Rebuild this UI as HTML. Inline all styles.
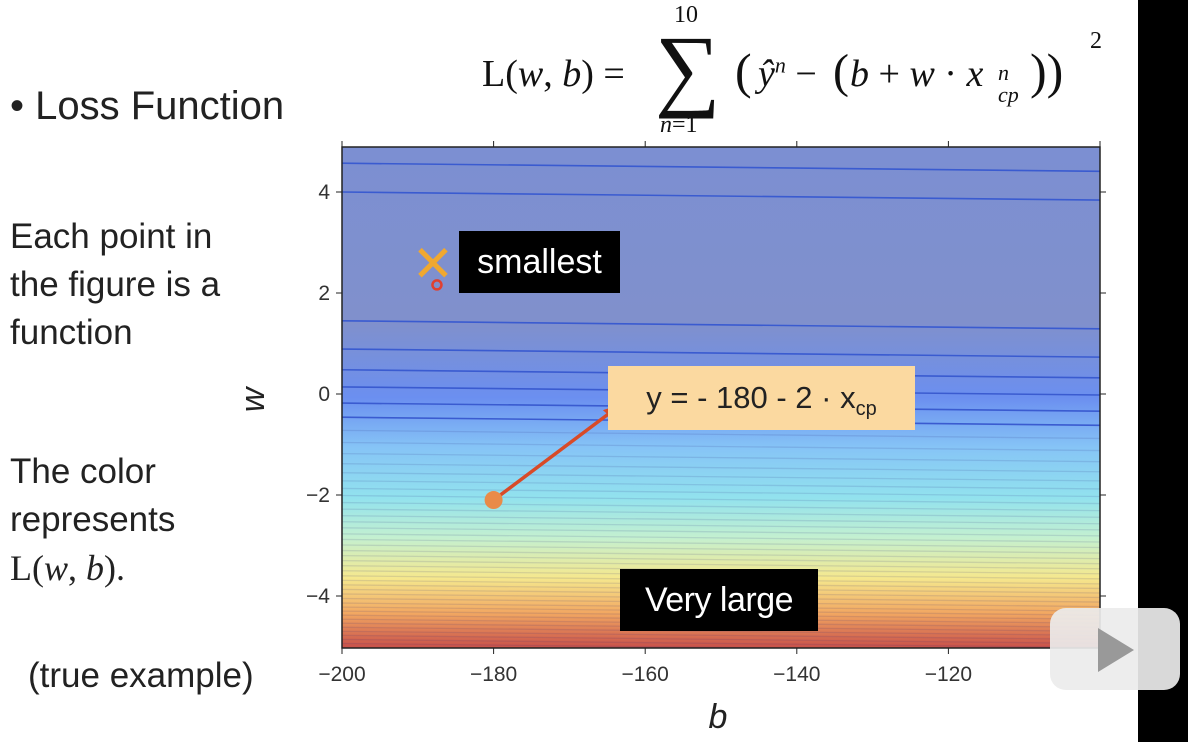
<!DOCTYPE html>
<html><head><meta charset="utf-8"><style>
body{margin:0;width:1188px;height:742px;overflow:hidden;background:#fff;font-family:"Liberation Sans",sans-serif;position:relative}
.t{position:absolute;color:#222;font-size:35px;line-height:48px;white-space:nowrap}
.serif{font-family:"Liberation Serif",serif}
.f{position:absolute;white-space:nowrap}
</style></head><body>
<div style="position:absolute;left:1138px;top:0;width:50px;height:742px;background:#000"></div>
<div class="t" style="left:10px;top:82px;font-size:40px">• Loss Function</div>
<div class="t" style="left:10px;top:213px">Each point in<br>the figure is a<br>function</div>
<div class="t" style="left:10px;top:448px">The color<br>represents<br><span class="serif" style="font-size:36px">L(<i>w</i>, <i>b</i>).</span></div>
<div class="t" style="left:28px;top:652px">(true example)</div>
<div class="serif" style="position:absolute;left:0;top:0;width:1138px;height:140px;font-size:38px;color:#111">
 <span class="f" style="left:482px;top:52px">L(<i>w</i>, <i>b</i>) =</span>
 <span class="f" style="left:674px;top:2px;font-size:24px">10</span>
 <span class="f" style="left:655px;top:18px;font-size:92px;line-height:100px">∑</span>
 <span class="f" style="left:660px;top:112px;font-size:24px"><i>n</i>=1</span>
 <span class="f" style="left:735px;top:42px;font-size:50px">(</span>
 <span class="f" style="left:758px;top:52px"><i>ŷ</i><sup style="font-size:22px"><i>n</i></sup> −</span>
 <span class="f" style="left:833px;top:44px;font-size:48px">(</span>
 <span class="f" style="left:850px;top:52px"><i>b</i> + <i>w</i> · <i>x</i></span>
 <span class="f" style="left:998px;top:62px;font-size:22px;line-height:22px"><i>n</i><br><i>cp</i></span>
 <span class="f" style="left:1030px;top:42px;font-size:50px">))</span>
 <span class="f" style="left:1090px;top:28px;font-size:24px">2</span>
</div>
<svg id="chart" style="position:absolute;left:0;top:0" width="1188" height="742"></svg>
<script>
const xTicks=[-200,-180,-160,-140,-120,-100];
const xTickLabels=["−200","−180","−160","−140","−120",""];
const yTicks=[4,2,0,-2,-4];
const yTickLabels=["4","2","0","−2","−4"];
const contourLevels=[4.57,4.0,1.45,0.89,0.48,0.14,-0.18,-0.46,-0.72,-0.96,-1.18,-1.38,-1.56,-1.72,-1.87,-2.01,-2.15,-2.28,-2.41,-2.53,-2.65,-2.77,-2.88,-2.99,-3.1,-3.2,-3.3,-3.4,-3.5,-3.6,-3.69,-3.78,-3.87,-3.96,-4.05,-4.14,-4.22,-4.3,-4.38,-4.46,-4.54,-4.62,-4.7,-4.78,-4.86,-4.94];
const contourDrop=[0.16];
const minimumPoint=[-188,2.6];
const foundPoint=[-188,2.2];
const startPoint=[-180,-2.1];
const arrowEnd=[-164,-0.3];
const NS="http://www.w3.org/2000/svg";
const svg=document.getElementById('chart');
const L=342,R=1100,T=147,B=648;
const xs=b=>L+(b+200)/100*(R-L);
const ys=w=>394-w*50.5;
function mk(t,a,p){const e=document.createElementNS(NS,t);for(const k in a)e.setAttribute(k,a[k]);(p||svg).appendChild(e);return e;}
const defs=mk('defs',{});
const g=mk('linearGradient',{id:'lg',x1:0,y1:0,x2:0,y2:1},defs);
[[0,'#7c8fd2'],[0.35,'#8090cc'],[0.5,'#6b8ff0'],[0.6,'#86c4f6'],[0.7,'#92e2ee'],[0.78,'#c4f0d0'],[0.86,'#f5e88e'],[0.93,'#f2a862'],[1,'#c8504a']].forEach(s=>mk('stop',{offset:s[0],'stop-color':s[1]},g));
const bg=mk('rect',{x:L,y:T,width:R-L,height:B-T,fill:'url(#lg)'});


const clip=mk('clipPath',{id:'cp'},defs);mk('rect',{x:L,y:T,width:R-L,height:B-T},clip);
const cg=mk('g',{'clip-path':'url(#cp)'});
contourLevels.forEach(w=>{
 const ln=mk('line',{x1:L,y1:ys(w),x2:R,y2:ys(w-contourDrop[0]),stroke:w>-0.6?'#3a5bd0':'rgba(40,40,120,0.13)','stroke-width':w>-0.6?1.6:1.3},cg);
 
 
});
mk('rect',{x:L,y:T,width:R-L,height:B-T,fill:'none',stroke:'#222','stroke-width':1.5});
xTicks.forEach((v,i)=>{
 mk('line',{x1:xs(v),x2:xs(v),y1:B,y2:B+6,stroke:'#222'});
 mk('line',{x1:xs(v),x2:xs(v),y1:T,y2:T-6,stroke:'#222'});
 const t=mk('text',{x:xs(v),y:B+33,'text-anchor':'middle','font-size':21,fill:'#333','font-family':'Liberation Sans'});t.textContent=xTickLabels[i];
 
 
});
yTicks.forEach((v,i)=>{
 mk('line',{x1:L-6,x2:L,y1:ys(v),y2:ys(v),stroke:'#222'});
 mk('line',{x1:R,x2:R+6,y1:ys(v),y2:ys(v),stroke:'#222'});
 const t=mk('text',{x:L-12,y:ys(v)+7,'text-anchor':'end','font-size':21,fill:'#333','font-family':'Liberation Sans'});t.textContent=yTickLabels[i];
 
 
});
const xl=mk('text',{x:718,y:728,'text-anchor':'middle','font-size':34,'font-style':'italic',fill:'#222'});xl.textContent='b';


const yl=mk('text',{x:264,y:400,'text-anchor':'middle','font-size':34,'font-style':'italic',fill:'#222',transform:'rotate(-90 264 400)'});yl.textContent='w';


const mx=xs(minimumPoint[0]),my=ys(minimumPoint[1]);
const xm=mk('path',{d:`M${mx-13} ${my-13}L${mx+13} ${my+13}M${mx+13} ${my-13}L${mx-13} ${my+13}`,stroke:'#f0a830','stroke-width':5});


const fp=mk('circle',{cx:xs(foundPoint[0])+4,cy:ys(foundPoint[1])+2,r:4.5,fill:'none',stroke:'#e04030','stroke-width':2.5});


const ar=mk('line',{x1:xs(startPoint[0]),y1:ys(startPoint[1]),x2:xs(arrowEnd[0]),y2:ys(arrowEnd[1]),stroke:'#d84a28','stroke-width':3.5});


const ex=xs(arrowEnd[0]),ey=ys(arrowEnd[1]);
mk('path',{d:`M${ex+4} ${ey-4}L${ex-12} ${ey+1}L${ex-3} ${ey+9}Z`,fill:'#d84a28'});
const sp=mk('circle',{cx:xs(startPoint[0]),cy:ys(startPoint[1]),r:9,fill:'#e98b48'});


</script>
<div style="position:absolute;left:459px;top:231px;width:161px;height:62px;background:#000;color:#fff;font-size:34px;line-height:62px;text-align:center">smallest</div>
<div style="position:absolute;left:620px;top:569px;width:198px;height:62px;background:#000;color:#fff;font-size:34px;line-height:62px;text-align:center;letter-spacing:-0.5px">Very large</div>
<div style="position:absolute;left:608px;top:366px;width:307px;height:64px;background:#fbd9a0;color:#222;font-size:31px;line-height:64px;text-align:center">y = - 180 - 2 · x<sub style="font-size:20px">cp</sub></div>
<div style="position:absolute;left:1050px;top:608px;width:130px;height:82px;background:rgba(235,235,235,0.92);border-radius:16px;z-index:5"><div style="position:absolute;left:48px;top:20px;width:0;height:0;border-left:36px solid #999;border-top:22px solid transparent;border-bottom:22px solid transparent"></div></div>
</body></html>
